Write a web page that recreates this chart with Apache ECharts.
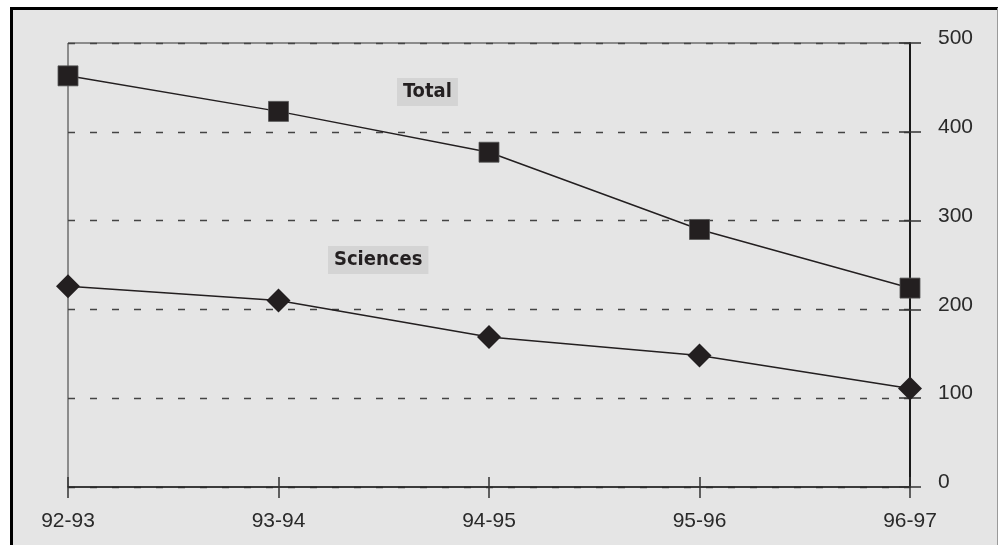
<!DOCTYPE html>
<html>
<head>
<meta charset="utf-8">
<script src="https://cdn.jsdelivr.net/npm/echarts@6/dist/echarts.min.js"></script>
<style>
  html, body { margin: 0; padding: 0; background: #ffffff; }
  #chart { width: 1000px; height: 545px; }
</style>
</head>
<body>
<div id="chart"></div>
<script>
// Academic years on the horizontal axis
const years = ['92-93', '93-94', '94-95', '95-96', '96-97'];
// Enrolment counts per year
const totalValues = [463, 423, 377, 290, 224];
const sciencesValues = [226, 210, 169, 148, 111];
// Value axis range
const yMin = 0;
const yMax = 500;
const yStep = 100;

const tickFont = "'Liberation Sans', Arial, sans-serif";
const noteFont = "'Liberation Sans Narrow', 'DejaVu Sans Condensed', 'Liberation Sans', sans-serif";
const ink = '#231f20';

const chart = echarts.init(document.getElementById('chart'), null, { renderer: 'canvas' });

const valueAxisBase = {
  type: 'value',
  position: 'right',
  min: yMin,
  max: yMax,
  interval: yStep
};

const option = {
  animation: false,
  backgroundColor: '#ffffff',
  grid: {
    left: 68,
    right: 90,
    top: 43,
    bottom: 58,
    show: true,
    borderColor: '#333333',
    borderWidth: 1,
    backgroundColor: 'transparent'
  },
  xAxis: [
    {
      type: 'category',
      data: years,
      boundaryGap: false,
      position: 'bottom',
      axisLine: { show: true, lineStyle: { color: '#222222', width: 1.5 } },
      axisTick: { show: true, inside: false, length: 11, lineStyle: { color: '#333333', width: 1.5 } },
      axisLabel: { margin: 24, fontFamily: tickFont, fontSize: 21, color: '#2a2a2a' },
      splitLine: { show: false }
    },
    {
      type: 'category',
      data: years,
      boundaryGap: false,
      position: 'bottom',
      axisLine: { show: false },
      axisTick: { show: true, inside: true, length: 10, lineStyle: { color: '#333333', width: 1.5 } },
      axisLabel: { show: false },
      splitLine: { show: false }
    }
  ],
  yAxis: [
    Object.assign({}, valueAxisBase, {
      axisLine: { show: true, lineStyle: { color: '#1a1a1a', width: 2 } },
      axisTick: { show: true, inside: false, length: 11, lineStyle: { color: '#333333', width: 1.5 } },
      axisLabel: {
        margin: 28,
        fontFamily: tickFont,
        fontSize: 21,
        color: '#2a2a2a',
        verticalAlign: 'bottom',
        lineHeight: 9
      },
      splitLine: { show: true, lineStyle: { color: '#444444', width: 1.3, type: [7, 15] } }
    }),
    Object.assign({}, valueAxisBase, {
      axisLine: { show: false },
      axisTick: { show: true, inside: true, length: 11, lineStyle: { color: '#333333', width: 1.5 } },
      axisLabel: { show: false },
      splitLine: { show: false }
    })
  ],
  graphic: [
    // gray panel behind the chart
    {
      type: 'rect',
      z: -10,
      silent: true,
      shape: { x: 10, y: 7, width: 988, height: 560 },
      style: { fill: '#e5e5e5' }
    },
    {
      type: 'polyline',
      z: 100,
      silent: true,
      shape: { points: [[11.5, 560], [11.5, 8.5], [998, 8.5]] },
      style: { stroke: '#000000', lineWidth: 3, fill: null }
    },
    {
      type: 'line',
      z: 100,
      silent: true,
      shape: { x1: 997.5, y1: 8, x2: 997.5, y2: 560 },
      style: { stroke: '#9a9a9a', lineWidth: 1 }
    },
    // series captions
    {
      type: 'text',
      z: 50,
      left: 397,
      top: 78,
      style: {
        text: 'Total',
        font: 'bold 20px ' + noteFont,
        fill: ink,
        backgroundColor: '#d4d4d4',
        padding: [4, 6, 4, 6]
      }
    },
    {
      type: 'text',
      z: 50,
      left: 328,
      top: 246,
      style: {
        text: 'Sciences',
        font: 'bold 20px ' + noteFont,
        fill: ink,
        backgroundColor: '#d4d4d4',
        padding: [4, 6, 4, 6]
      }
    }
  ],
  series: [
    {
      name: 'Total',
      type: 'line',
      data: totalValues,
      symbol: 'rect',
      symbolSize: 20,
      showAllSymbol: true,
      lineStyle: { color: ink, width: 1.5 },
      itemStyle: { color: ink, borderColor: '#555555', borderWidth: 0.8 },
      z: 10
    },
    {
      name: 'Sciences',
      type: 'line',
      data: sciencesValues,
      symbol: 'diamond',
      symbolSize: 24,
      showAllSymbol: true,
      lineStyle: { color: ink, width: 1.5 },
      itemStyle: { color: ink },
      z: 10
    }
  ]
};

chart.setOption(option);
</script>
</body>
</html>
